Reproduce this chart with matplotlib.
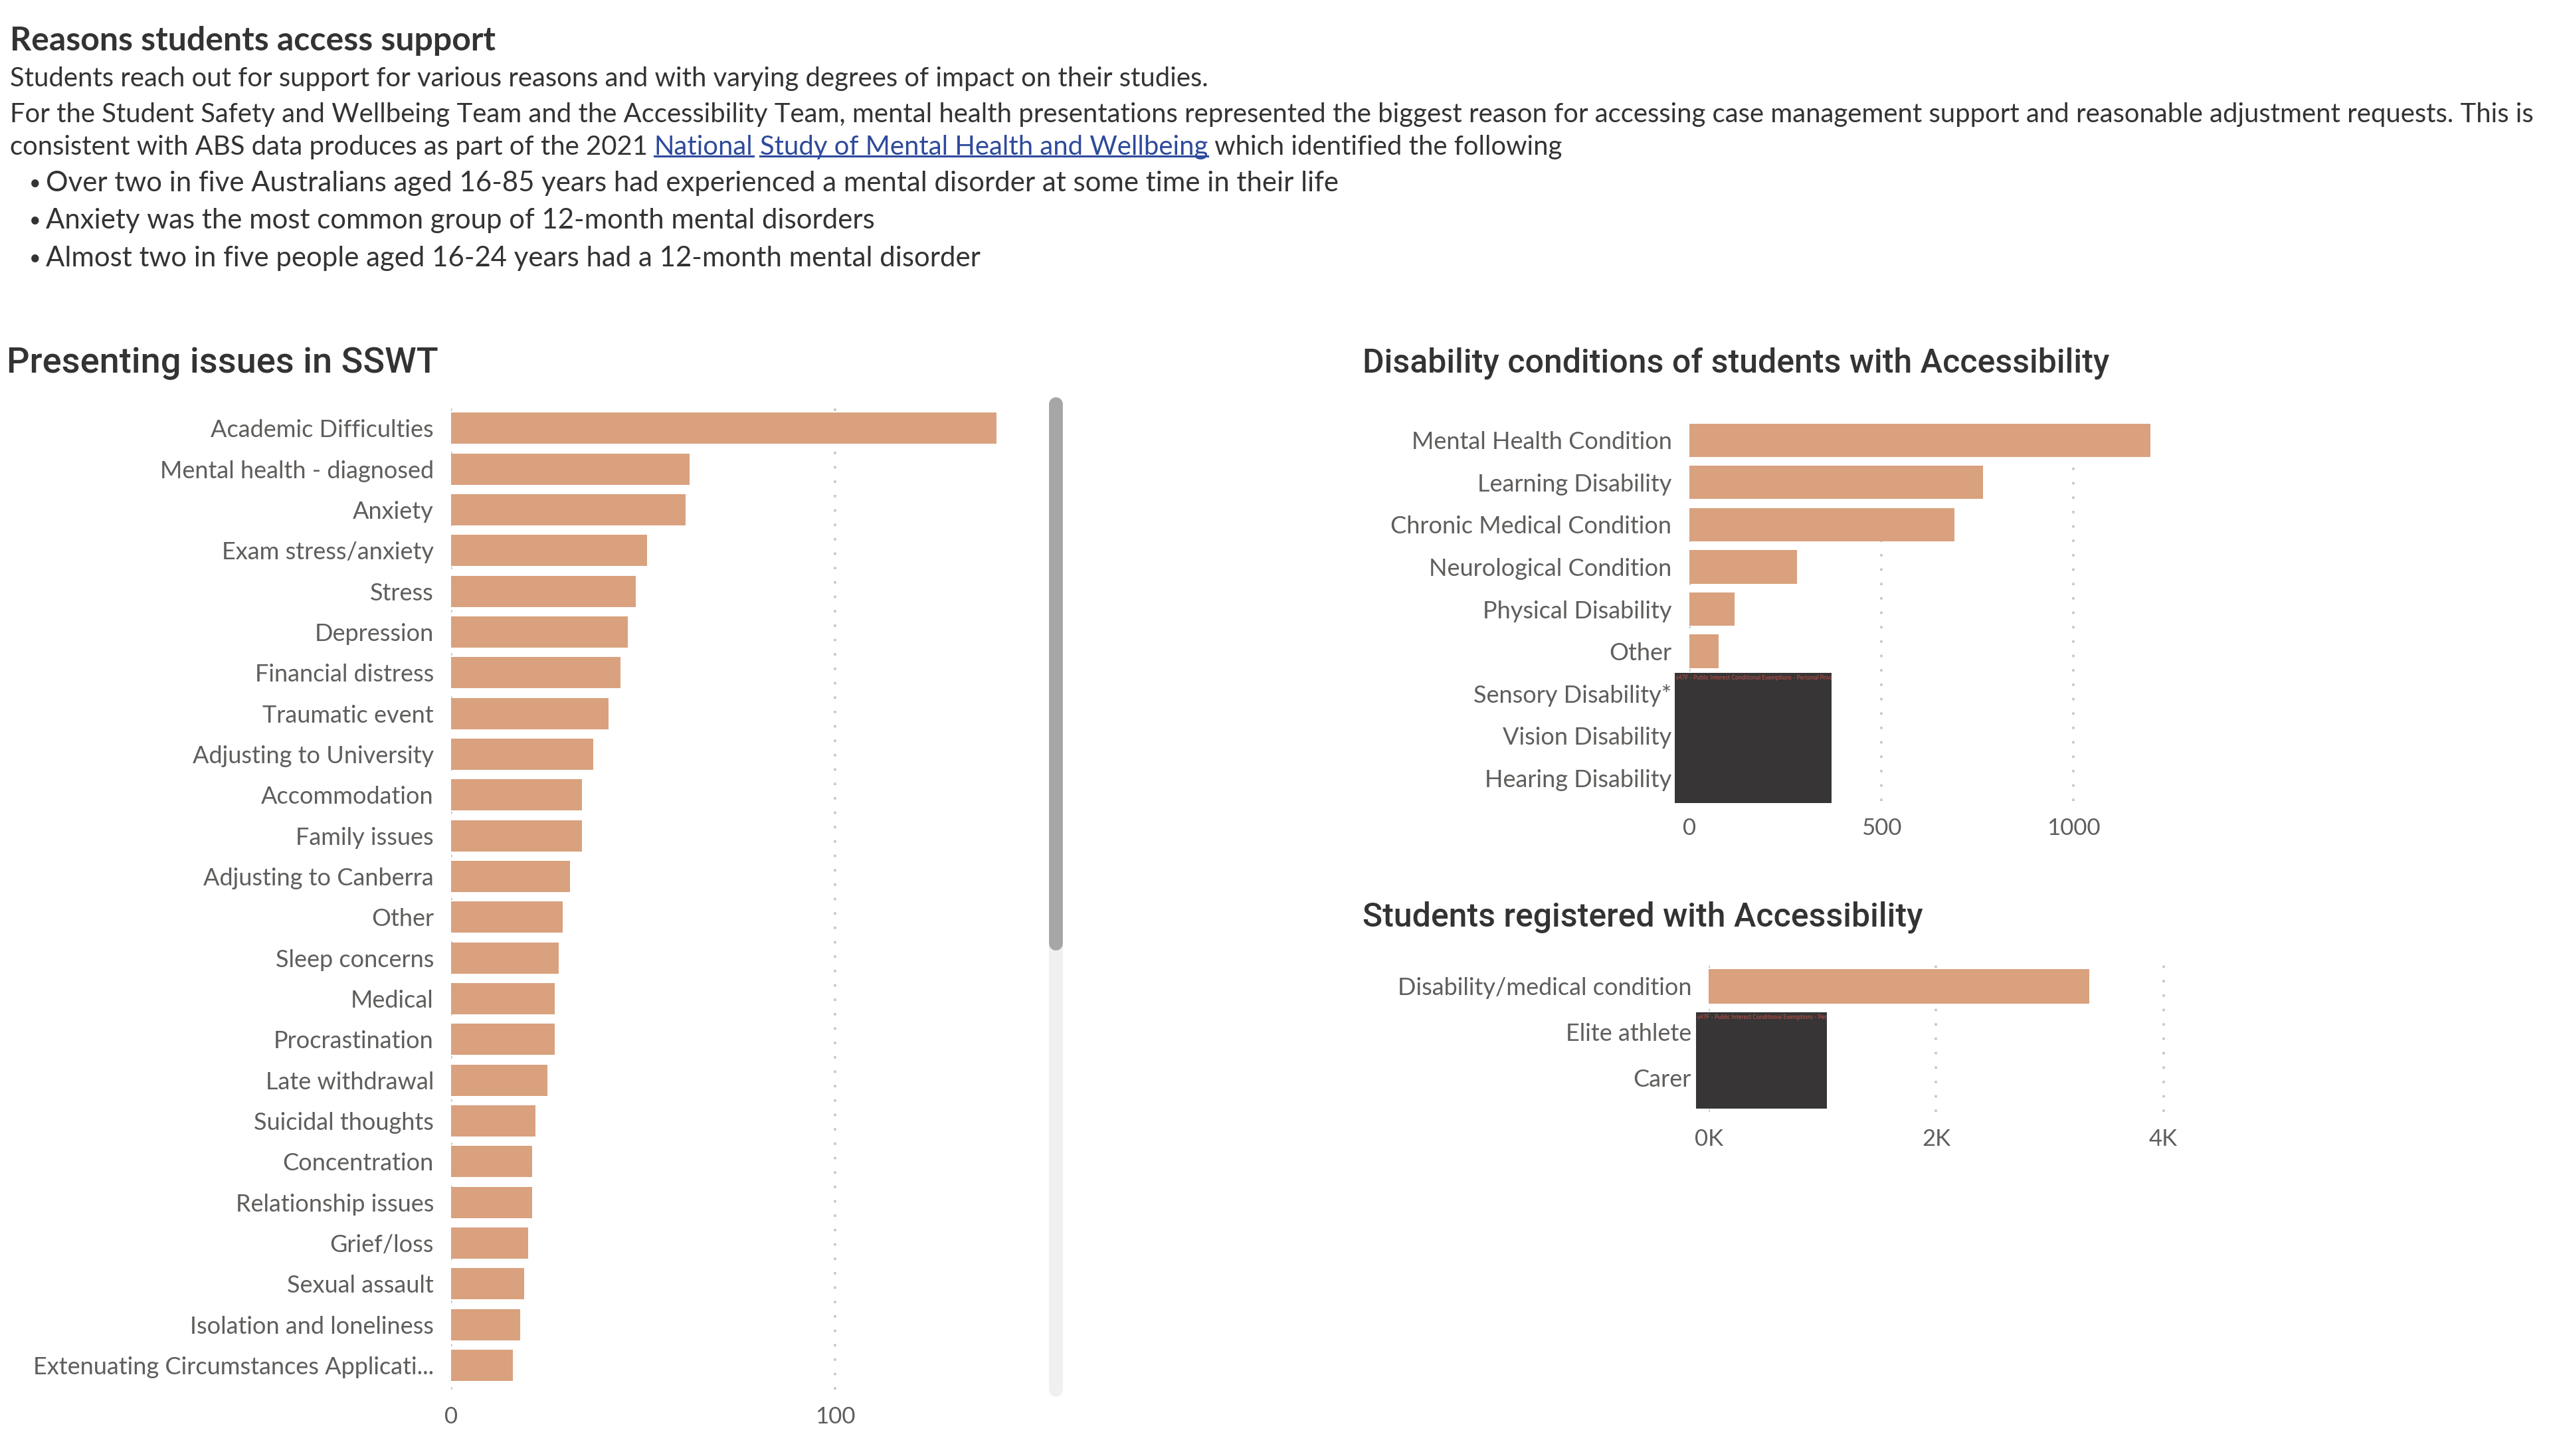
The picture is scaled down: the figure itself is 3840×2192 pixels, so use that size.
import numpy as np
import matplotlib.pyplot as plt
from matplotlib.patches import Rectangle
from matplotlib.lines import Line2D
from matplotlib.ticker import FuncFormatter

plt.rcParams['font.family'] = ['Lato', 'DejaVu Sans']

# Данные

sswt_issues = [
    "Academic Difficulties", "Mental health - diagnosed", "Anxiety", "Exam stress/anxiety",
    "Stress", "Depression", "Financial distress", "Traumatic event", "Adjusting to University",
    "Accommodation", "Family issues", "Adjusting to Canberra", "Other", "Sleep concerns",
    "Medical", "Procrastination", "Late withdrawal", "Suicidal thoughts", "Concentration",
    "Relationship issues", "Grief/loss", "Sexual assault", "Isolation and loneliness",
    "Extenuating Circumstances Applicati...",
]
sswt_counts = [142, 62, 61, 51, 48, 46, 44, 41, 37, 34, 34, 31, 29, 28, 27, 27, 25, 22, 21, 21, 20, 19, 18, 16]

disability_conditions = [
    "Mental Health Condition", "Learning Disability", "Chronic Medical Condition",
    "Neurological Condition", "Physical Disability", "Other", "Sensory Disability*",
    "Vision Disability", "Hearing Disability",
]
# last three are redacted in the source
disability_counts = [1200, 765, 690, 280, 117, 76, np.nan, np.nan, np.nan]

registration_types = ["Disability/medical condition", "Elite athlete", "Carer"]
registration_counts = [3350, np.nan, np.nan]

sswt_ticks = [0, 100]
disability_ticks = [0, 500, 1000]
registration_ticks = [0, 2000, 4000]

redact_note = "s47F - Public Interest Conditional Exemptions - Personal Privacy"

BAR = "#D9A17E"
DARK = "#333333"
GREY = "#605E5C"
GRID = "#C8C6C4"
LINK = "#2E4A9C"
REDACT = "#373535"
BODY = 14.4

fig = plt.figure(figsize=(19.2, 10.96), dpi=200)
fig.patch.set_facecolor("white")

# Заголовок и текст

fig.text(0.0038, 0.9719, "Reasons students access support", fontsize=18, fontweight="bold",
         color=DARK, va="center")
fig.text(0.0038, 0.946, "Students reach out for support for various reasons and with varying "
         "degrees of impact on their studies.", fontsize=BODY, color=DARK, va="center")
fig.text(0.0038, 0.9214, "For the Student Safety and Wellbeing Team and the Accessibility Team, "
         "mental health presentations represented the biggest reason for accessing case "
         "management support and reasonable adjustment requests. This is",
         fontsize=BODY, color=DARK, va="center")

# line with links, placed piece by piece
renderer = fig.canvas.get_renderer()
fw = fig.bbox.width
fh = fig.bbox.height


def text_w(s, **kw):
    t = fig.text(0, 0, s, **kw)
    w = t.get_window_extent(renderer).width / fw
    t.remove()
    return w


pieces = [
    ("consistent with ABS data produces as part of the 2021 ", DARK, False),
    ("National", LINK, True),
    (" ", DARK, False),
    ("Study of Mental Health and Wellbeing", LINK, True),
    (" which identified the following", DARK, False),
]
line_y = 0.8989
base_kw = dict(fontsize=BODY, va="center")
prefix = ""
x0 = 0.0038
for seg, col, under in pieces:
    if seg.strip() == "":
        prefix += seg
        continue
    xs = x0 + text_w(prefix + seg, **base_kw) - text_w(seg, **base_kw)
    t = fig.text(xs, line_y, seg, color=col, **base_kw)
    if under:
        bb = t.get_window_extent(renderer)
        yb = bb.y0 / fh + 0.0025
        fig.add_artist(Line2D([bb.x0 / fw, bb.x1 / fw], [yb, yb], color=col, lw=1.1,
                              transform=fig.transFigure))
    prefix += seg

bullets = [
    "Over two in five Australians aged 16-85 years had experienced a mental disorder at some time in their life",
    "Anxiety was the most common group of 12-month mental disorders",
    "Almost two in five people aged 16-24 years had a 12-month mental disorder",
]
for y, b in zip([0.8742, 0.8484, 0.8226], bullets):
    fig.text(0.0115, y, "\u2022", fontsize=11, color=DARK, va="center")
    fig.text(0.018, y, b, fontsize=15.1, color=DARK, va="center")

# Заголовки графиков

title_kw = dict(fontsize=18, color=DARK, va="center", fontweight="medium",
                family=["Roboto", "DejaVu Sans"])
fig.text(0.0026, 0.7507, "Presenting issues in SSWT", fontsize=19.5,
         **{k: v for k, v in title_kw.items() if k != "fontsize"})
fig.text(0.534, 0.7507, "Disability conditions of students with Accessibility", **title_kw)
fig.text(0.534, 0.370, "Students registered with Accessibility", **title_kw)


def style(ax, ticks, fmt=None, label_size=13):
    for s in ax.spines.values():
        s.set_visible(False)
    ax.set_xticks(ticks)
    if fmt:
        ax.xaxis.set_major_formatter(FuncFormatter(fmt))
    ax.tick_params(axis="y", length=0, pad=9.5, labelsize=label_size, labelcolor=GREY)
    ax.tick_params(axis="x", length=0, pad=9, labelsize=12.5, labelcolor=GREY)
    ax.grid(axis="x", color=GRID, linestyle=(0, (1, 5)), linewidth=1.3)
    ax.set_axisbelow(True)


def redact(ax, x0, x1, y0, y1, note):
    r = Rectangle((x0, y0), x1 - x0, y1 - y0, facecolor=REDACT, edgecolor="none",
                  clip_on=False, zorder=5)
    ax.add_patch(r)
    t = ax.text(x0 + (x1 - x0) * 0.01, y0 + 0.04, note, fontsize=3.1, color="#C8504A",
                va="top", ha="left", zorder=6, clip_on=True)
    t.set_clip_path(r)


# Presenting issues in SSWT
ax1 = fig.add_axes([0.1769, 0.0455, 0.2333, 0.6771])
ax1.barh(sswt_issues, sswt_counts, height=0.77, color=BAR)
ax1.set_ylim(23.6, -0.6)
ax1.set_xlim(0, 155)
style(ax1, sswt_ticks, label_size=13)

# scrollbar
sx = 0.4138
fig.add_artist(Line2D([sx, sx], [0.0455, 0.7225], color="#F0F0F0", lw=7.5,
                      solid_capstyle="round", transform=fig.transFigure))
fig.add_artist(Line2D([sx, sx], [0.3520, 0.7225], color="#A6A6A6", lw=7.5,
                      solid_capstyle="round", transform=fig.transFigure))

# Disability conditions
ax2 = fig.add_axes([0.6622, 0.4497, 0.1958, 0.2639])
ax2.barh(disability_conditions, disability_counts, height=0.79, color=BAR)
ax2.set_ylim(8.55, -0.55)
ax2.set_xlim(0, 1300)
style(ax2, disability_ticks)
redact(ax2, -38, 370, 5.51, 8.6, redact_note)

# Students registered
ax3 = fig.add_axes([0.6699, 0.2364, 0.1893, 0.1066])
ax3.barh(registration_types, registration_counts, height=0.75, color=BAR)
ax3.set_ylim(2.75, -0.65)
ax3.set_xlim(0, 4250)
style(ax3, registration_ticks, fmt=lambda v, p: f"{v / 1000:.0f}K")
redact(ax3, -115, 1036, 0.57, 2.68, redact_note)

plt.savefig("out.png", dpi=200)
